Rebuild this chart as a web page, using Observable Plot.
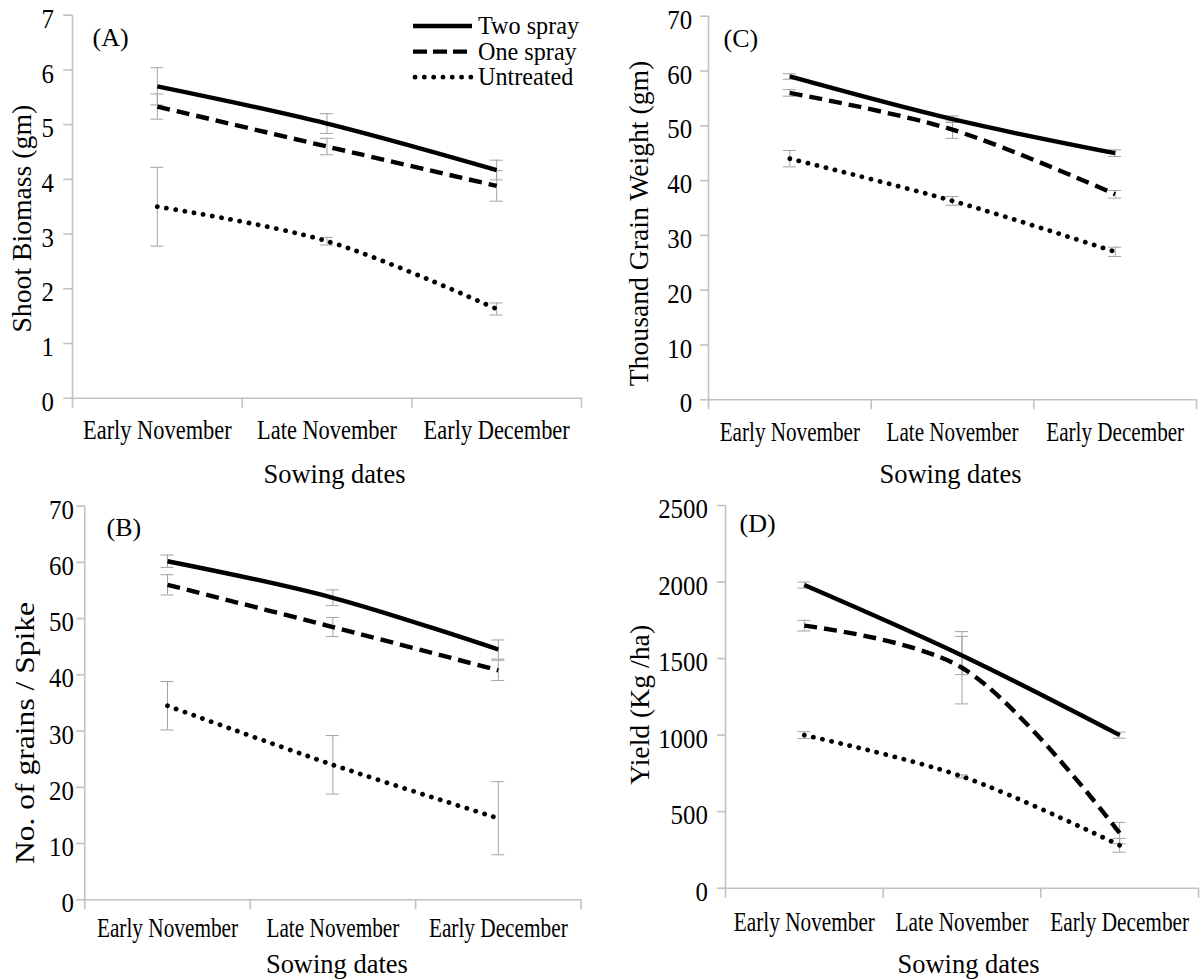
<!DOCTYPE html>
<html><head><meta charset="utf-8">
<script src="https://cdn.jsdelivr.net/npm/d3@7"></script>
<script src="https://cdn.jsdelivr.net/npm/@observablehq/plot@0.6"></script>
<style>
html,body{margin:0;padding:0;background:#fff;}
#wrap{position:relative;width:1202px;height:979px;overflow:hidden;font-family:"Liberation Serif","Times New Roman",serif;}
#wrap svg{overflow:visible;}
.panel{position:absolute;}
</style></head><body><div id="wrap"></div>
<script>
// ---------- data ----------
const sowingDates = ["Early November", "Late November", "Early December"];
const treatments = ["Two spray", "One spray", "Untreated"];
const xTitle = "Sowing dates";

// (A) Shoot biomass (gm)
const biomassTwo = [5.7, 5.02, 4.17];
const biomassOne = [5.33, 4.6, 3.88];
const biomassUnt = [3.5, 2.87, 1.63];
const biomassTwoErr = [0.34, 0.18, 0.18];
const biomassOneErr = [0.23, 0.15, 0.28];
const biomassUntErr = [0.72, 0.07, 0.11];
const ticksA = [0, 1, 2, 3, 4, 5, 6, 7];

// (B) No. of grains / spike
const grainsTwo = [60.2, 53.7, 44.5];
const grainsOne = [56, 48.5, 40.8];
const grainsUnt = [34.5, 24, 14.5];
const grainsTwoErr = [1.1, 1.4, 1.7];
const grainsOneErr = [1.8, 1.7, 1.8];
const grainsUntErr = [4.3, 5.2, 6.5];
const ticksB = [0, 10, 20, 30, 40, 50, 60, 70];

// (C) Thousand grain weight (gm)
const tgwTwo = [59, 51.2, 45];
const tgwOne = [56, 49.3, 37.5];
const tgwUnt = [44, 36.3, 27];
const tgwTwoErr = [0.5, 0.6, 0.6];
const tgwOneErr = [0.6, 1.6, 0.7];
const tgwUntErr = [1.5, 0.8, 0.85];
const ticksC = [0, 10, 20, 30, 40, 50, 60, 70];

// (D) Yield (Kg/ha)
const yieldTwo = [1980, 1520, 1000];
const yieldOne = [1715, 1440, 360];
const yieldUnt = [1000, 730, 280];
const yieldTwoErr = [20, 125, 20];
const yieldOneErr = [35, 236, 70];
const yieldUntErr = [22, 10, 45];
const ticksD = [0, 500, 1000, 1500, 2000, 2500];

// ---------- styles / layout ----------
const lineStyle = {
  "Two spray": {dash: null, cap: "butt", w: 4.4},
  "One spray": {dash: "13 7", cap: "butt", w: 4.4},
  "Untreated": {dash: "0.1 9.2", cap: "round", w: 4.8}
};
const AXIS = "#c2c2c2", ERR = "#a3a3a3";
const FONT = '"Liberation Serif", "Times New Roman", serif';

const panels = [
  {label: "(A)", left: 0, top: 0, width: 601, height: 490, m: [14.7, 20, 92.3, 72],
   series: [biomassTwo, biomassOne, biomassUnt], errors: [biomassTwoErr, biomassOneErr, biomassUntErr],
   ticks: ticksA, yTitle: "Shoot Biomass (gm)", tickLen: 8.7, yPad: 18.7, xPad: 21, xs: 0.80,
   lab: [20, 22.8], yt: [-42, 12, 1], xt: [7.5, 84.3]},
  {label: "(C)", left: 601, top: 0, width: 601, height: 490, m: [15.7, 6, 90.7, 107],
   series: [tgwTwo, tgwOne, tgwUnt], errors: [tgwTwoErr, tgwOneErr, tgwUntErr],
   ticks: ticksC, yTitle: "Thousand Grain Weight (gm)", tickLen: 8, yPad: 16.3, xPad: 21, xs: 0.755,
   lab: [15, 22.3], yt: [-61, 15.5, 1], xt: [-2, 82.7]},
  {label: "(B)", left: 0, top: 490, width: 601, height: 489, m: [15.6, 20.5, 79.7, 84.3],
   series: [grainsTwo, grainsOne, grainsUnt], errors: [grainsTwoErr, grainsOneErr, grainsUntErr],
   ticks: ticksB, yTitle: "No. of grains / Spike", tickLen: 8, yPad: 11, xPad: 17.4, xs: 0.76,
   lab: [21.7, 21.4], yt: [-51, 30, 1.14], xt: [4, 72.7]},
  {label: "(D)", left: 601, top: 490, width: 601, height: 489, m: [15, 4, 91.3, 124],
   series: [yieldTwo, yieldOne, yieldUnt], errors: [yieldTwoErr, yieldOneErr, yieldUntErr],
   ticks: ticksD, yTitle: "Yield (Kg /ha)", tickLen: 8, yPad: 17.7, xPad: 22.7, xs: 0.76,
   lab: [14, 18], yt: [-77, 8, 1], xt: [6.5, 84.3]}
];

// horizontally compress text (after it is in the document) with textLength
function squeeze(svg, fn) {
  svg.querySelectorAll("text").forEach(t => {
    const s = fn(t);
    if (!s || s === 1 || !t.textContent) return;
    const w = t.getComputedTextLength();
    if (!w) return;
    t.setAttribute("textLength", (w * s).toFixed(2));
    t.setAttribute("lengthAdjust", "spacingAndGlyphs");
  });
}

const wrap = document.getElementById("wrap");

for (const p of panels) {
  const rows = [];
  p.series.forEach((vals, s) => vals.forEach((v, i) =>
    rows.push({t: treatments[s], x: i + 0.5, y: v, e: p.errors[s][i]})));
  const yMax = p.ticks[p.ticks.length - 1];

  const marks = [
    // error bars
    Plot.ruleX(rows, {x: "x", y1: d => d.y - d.e, y2: d => d.y + d.e, stroke: ERR, strokeWidth: 1}),
    Plot.ruleY(rows, {x1: "x", x2: "x", y: d => d.y + d.e, insetLeft: -6.5, insetRight: -6.5, stroke: ERR, strokeWidth: 1}),
    Plot.ruleY(rows, {x1: "x", x2: "x", y: d => d.y - d.e, insetLeft: -6.5, insetRight: -6.5, stroke: ERR, strokeWidth: 1}),
    // series lines
    ...treatments.map(t => Plot.line(rows.filter(d => d.t === t), {
      x: "x", y: "y", stroke: "black", strokeWidth: lineStyle[t].w,
      strokeDasharray: lineStyle[t].dash, strokeLinecap: lineStyle[t].cap,
      curve: "catmull-rom"
    })),
    // axes
    Plot.ruleY([0], {stroke: AXIS, strokeWidth: 1.6}),
    Plot.ruleX([0], {stroke: AXIS, strokeWidth: 1.6}),
    Plot.axisX({ticks: [0, 1, 2, 3], tickSize: 10, tickFormat: () => "", stroke: AXIS, strokeWidth: 1.6, label: null}),
    Plot.axisX({ticks: [0.5, 1.5, 2.5], tickSize: 0, tickPadding: p.xPad, fontSize: 28,
      tickFormat: d => sowingDates[Math.round(d - 0.5)], fill: "black", label: null}),
    Plot.axisY({ticks: p.ticks, tickSize: p.tickLen, tickFormat: () => "", stroke: AXIS, strokeWidth: 1.6, label: null}),
    Plot.axisY({ticks: p.ticks, tickSize: 0, tickPadding: p.yPad, dy: 4, fontSize: 27, fill: "black",
      tickFormat: d => String(d), label: null}),
    // texts
    Plot.text([p.label], {frameAnchor: "top-left", dx: p.lab[0], dy: p.lab[1], textAnchor: "start",
      lineAnchor: "middle", fontSize: 26, fill: "black"}),
    Plot.text([p.yTitle], {frameAnchor: "left", rotate: -90, dx: p.yt[0], dy: p.yt[1],
      textAnchor: "middle", lineAnchor: "bottom", fontSize: 27.7, fill: "black"}),
    Plot.text([xTitle], {frameAnchor: "bottom", dx: p.xt[0], dy: p.xt[1],
      textAnchor: "middle", lineAnchor: "bottom", fontSize: 28, fill: "black"})
  ];

  const svg = Plot.plot({
    width: p.width, height: p.height,
    marginTop: p.m[0], marginRight: p.m[1], marginBottom: p.m[2], marginLeft: p.m[3],
    x: {type: "linear", domain: [0, 3], label: null},
    y: {type: "linear", domain: [0, yMax], label: null},
    style: {fontFamily: FONT, fontSize: "27px", color: "black", background: "transparent", overflow: "visible"},
    marks
  });

  const div = document.createElement("div");
  div.className = "panel";
  div.style.left = p.left + "px";
  div.style.top = p.top + "px";
  div.appendChild(svg);
  wrap.appendChild(div);

  squeeze(svg, t => {
    const g = t.closest("g");
    const a = g ? g.getAttribute("aria-label") : "";
    const txt = t.textContent;
    if (a === "y-axis tick label") return 0.92;
    if (a === "x-axis tick label") return p.xs;
    if (txt === xTitle) return 0.946;
    if (txt === p.yTitle) return p.yt[2];
    return 1;
  });
}

// ---------- legend (inside panel A, top right) ----------
const leg = d3.select(wrap).append("svg")
  .attr("width", 200).attr("height", 100)
  .style("position", "absolute").style("left", "400px").style("top", "0px").style("overflow", "visible");
treatments.forEach((t, i) => {
  const cy = 26 + i * 25.6;
  const st = lineStyle[t];
  leg.append("line").attr("x1", t === "Untreated" ? 15 : 13).attr("x2", 72).attr("y1", cy).attr("y2", cy)
    .attr("stroke", "black").attr("stroke-width", st.w)
    .attr("stroke-dasharray", t === "One spray" ? "14 6" : st.dash)
    .attr("stroke-linecap", st.cap);
  const tx = leg.append("text").attr("x", 78).attr("y", cy + 8)
    .attr("font-family", FONT).attr("font-size", 26).attr("fill", "black").text(t);
  const w = tx.node().getComputedTextLength();
  tx.attr("textLength", (w * 0.93).toFixed(2)).attr("lengthAdjust", "spacingAndGlyphs");
});
</script></body></html>
